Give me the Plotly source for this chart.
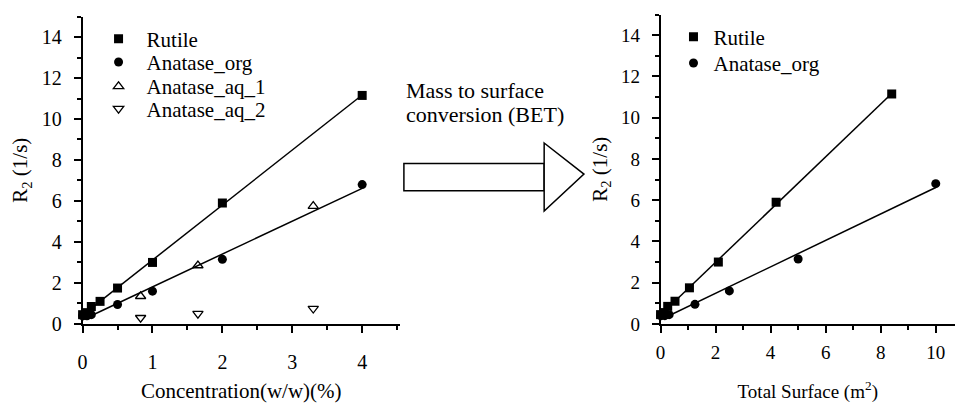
import numpy as np
import plotly.graph_objects as go

# ---------------- data ----------------
conc_rutile = [0, 0.0625, 0.125, 0.25, 0.5, 1, 2, 4]
r2_rutile = [0.45, 0.55, 0.85, 1.1, 1.75, 3.0, 5.9, 11.15]

conc_anat_org = [0, 0.0625, 0.125, 0.5, 1, 2, 4]
r2_anat_org = [0.4, 0.4, 0.45, 0.95, 1.6, 3.15, 6.8]

conc_aq1 = [0.83, 1.65, 3.3]
r2_aq1 = [1.35, 2.85, 5.75]

conc_aq2 = [0.83, 1.65, 3.3]
r2_aq2 = [0.3, 0.5, 0.75]

surf_rutile = [0, 0.13, 0.26, 0.525, 1.05, 2.1, 4.2, 8.4]
surf_anat_org = [0, 0.156, 0.3125, 1.25, 2.5, 5, 10]

FONT = "Liberation Serif, Times New Roman, serif"
W, H = 955, 403


def fit_line(x, y):
    k, b = np.polyfit(x, y, 1)
    xs = np.array([min(x), max(x)])
    return xs, k * xs + b


def px(x):
    return x / W


def py(y):
    return (H - y) / H


fig = go.Figure()

SQ = dict(symbol="square", size=9, color="black")
CI = dict(symbol="circle", size=9, color="black")
TU = dict(symbol="triangle-up-open", size=9, color="black", line=dict(width=1.3, color="black"))
TD = dict(symbol="triangle-down-open", size=9, color="black", line=dict(width=1.3, color="black"))

# left panel
for x, y in [(conc_rutile, r2_rutile), (conc_anat_org, r2_anat_org)]:
    fx, fy = fit_line(x, y)
    fig.add_trace(go.Scatter(x=fx, y=fy, mode="lines", line=dict(color="black", width=1.5),
                             showlegend=False, xaxis="x", yaxis="y", hoverinfo="skip"))

fig.add_trace(go.Scatter(x=conc_rutile, y=r2_rutile, mode="markers", name="Rutile", marker=SQ,
                         xaxis="x", yaxis="y", legend="legend", cliponaxis=False))
fig.add_trace(go.Scatter(x=conc_anat_org, y=r2_anat_org, mode="markers", name="Anatase_org", marker=CI,
                         xaxis="x", yaxis="y", legend="legend3", cliponaxis=False))
fig.add_trace(go.Scatter(x=conc_aq1, y=r2_aq1, mode="markers", name="Anatase_aq_1", marker=TU,
                         xaxis="x", yaxis="y", legend="legend4"))
fig.add_trace(go.Scatter(x=conc_aq2, y=r2_aq2, mode="markers", name="Anatase_aq_2", marker=TD,
                         xaxis="x", yaxis="y", legend="legend5"))

# right panel
for x, y in [(surf_rutile, r2_rutile), (surf_anat_org, r2_anat_org)]:
    fx, fy = fit_line(x, y)
    fig.add_trace(go.Scatter(x=fx, y=fy, mode="lines", line=dict(color="black", width=1.5),
                             showlegend=False, xaxis="x2", yaxis="y2", hoverinfo="skip"))

fig.add_trace(go.Scatter(x=surf_rutile, y=r2_rutile, mode="markers", name="Rutile", marker=SQ,
                         xaxis="x2", yaxis="y2", legend="legend2", cliponaxis=False))
fig.add_trace(go.Scatter(x=surf_anat_org, y=r2_anat_org, mode="markers", name="Anatase_org", marker=CI,
                         xaxis="x2", yaxis="y2", legend="legend6", cliponaxis=False))

common_ax = dict(showline=True, linecolor="black", linewidth=1.5, showgrid=False, zeroline=False,
                 ticks="outside", ticklen=7, tickwidth=1.5, tickcolor="black", mirror=False)
minor = lambda d: dict(dtick=d, ticks="outside", ticklen=4, tickcolor="black", tickwidth=1.5)

LEGF = dict(family=FONT, size=21, color="black")


def leg(xpix, ytop, iw):
    return dict(x=px(xpix), y=py(ytop), xanchor="left", yanchor="top",
                bgcolor="rgba(0,0,0,0)", font=LEGF, itemwidth=iw, tracegroupgap=0)


LEFT_LEG_X = 86
fig.update_layout(
    width=W, height=H,
    margin=dict(l=0, r=0, t=0, b=0),
    paper_bgcolor="white", plot_bgcolor="white",
    font=dict(family=FONT, color="black"),
    xaxis=dict(domain=[px(78), px(397)], range=[0, 4.54], dtick=1, tick0=0, minor=minor(0.5),
               tickfont=dict(family=FONT, size=20, color="black"), ticklabelstandoff=12,
               title=dict(text="Concentration(w/w)(%)", font=dict(family=FONT, size=21), standoff=16),
               anchor="y", **common_ax),
    yaxis=dict(domain=[py(333), py(17)], range=[0, 15], dtick=2, tick0=0, minor=minor(1),
               tickfont=dict(family=FONT, size=20, color="black"), ticklabelstandoff=8,
               title=dict(text="R<sub>2</sub> (1/s)", font=dict(family=FONT, size=21), standoff=8),
               anchor="x", **common_ax),
    xaxis2=dict(domain=[px(659), 1.0], range=[0, 10.7], dtick=2, tick0=0, minor=minor(1),
                tickfont=dict(family=FONT, size=19, color="black"), ticklabelstandoff=4,
                title=dict(text="Total Surface (m<sup>2</sup>)", font=dict(family=FONT, size=19), standoff=25),
                anchor="y2", **common_ax),
    yaxis2=dict(domain=[py(333), py(15)], range=[0, 15], dtick=2, tick0=0, minor=minor(1),
                tickfont=dict(family=FONT, size=19, color="black"), ticklabelstandoff=8,
                title=dict(text="R<sub>2</sub> (1/s)", font=dict(family=FONT, size=21), standoff=8),
                anchor="x2", **common_ax),
    legend=leg(LEFT_LEG_X, 19, 46),
    legend3=leg(LEFT_LEG_X, 43, 46),
    legend4=leg(LEFT_LEG_X, 68, 46),
    legend5=leg(LEFT_LEG_X, 91, 46),
    legend2=leg(672, 17, 30),
    legend6=leg(672, 44, 30),
)

# arrow (rectangle body + triangle head) in paper coordinates
fig.add_shape(type="rect", xref="paper", yref="paper",
              x0=px(401), x1=px(542), y0=py(196), y1=py(168),
              line=dict(color="black", width=1.5), fillcolor="white")
fig.add_shape(type="path", xref="paper", yref="paper",
              path=f"M {px(542)},{py(147)} L {px(582)},{py(179)} L {px(542)},{py(217)} Z",
              line=dict(color="black", width=1.5), fillcolor="white")

for txt, yc in [("Mass to surface", 93), ("conversion (BET)", 118)]:
    fig.add_annotation(text=txt, xref="paper", yref="paper",
                       x=px(401), y=py(yc), xanchor="left", yanchor="middle", align="left",
                       showarrow=False, font=dict(family=FONT, size=22, color="black"))

fig.write_html("out.html")
